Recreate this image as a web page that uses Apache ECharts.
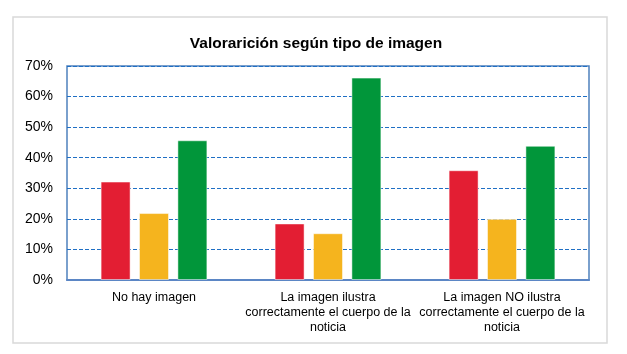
<!DOCTYPE html>
<html>
<head>
<meta charset="utf-8">
<script src="https://cdn.jsdelivr.net/npm/echarts@6/dist/echarts.min.js"></script>
<style>
  html, body { margin: 0; padding: 0; background: #fff; }
  #chart { width: 627px; height: 354px; }
</style>
</head>
<body>
<div id="chart"></div>
<script>
// categorias (eje x)
const categories = [
  'No hay imagen',
  'La imagen ilustra\ncorrectamente el cuerpo de la\nnoticia',
  'La imagen NO ilustra\ncorrectamente el cuerpo de la\nnoticia'
]
// valores en %
const serieRoja = [32.2, 18.5, 35.9]
const serieAmarilla = [21.9, 15.3, 20.0]
const serieVerde = [45.7, 66.2, 43.9]

const COLORS = ['#e31e33', '#f5b41e', '#01963a']

const myChart = echarts.init(document.getElementById('chart'))

const barSeries = (data, color) => ({
  type: 'bar',
  barWidth: 30,
  barGap: '28%',
  itemStyle: {
    color: color,
    borderColor: 'rgba(255,255,255,0.5)',
    borderWidth: 1
  },
  data: data
})

myChart.setOption({
  animation: false,
  textStyle: {
    fontFamily: 'Liberation Sans, Arial, sans-serif'
  },
  graphic: [
    {
      type: 'rect',
      shape: { x: 13, y: 17, width: 594, height: 326 },
      style: { fill: 'none', stroke: '#d9d9d9', lineWidth: 1.5 },
      z: -1
    }
  ],
  title: {
    text: 'Valorarición según tipo de imagen',
    left: 311,
    textAlign: 'center',
    top: 31,
    textStyle: {
      fontSize: 15.5,
      fontWeight: 'bold',
      color: '#000'
    }
  },
  grid: {
    left: 67,
    right: 38,
    top: 66,
    bottom: 74,
    show: true,
    borderColor: '#4f81bd',
    borderWidth: 1.5,
    backgroundColor: 'transparent'
  },
  xAxis: {
    type: 'category',
    data: categories,
    axisTick: { show: false },
    axisLine: {
      show: true,
      lineStyle: { color: '#5b86c5', width: 2 }
    },
    axisLabel: {
      interval: 0,
      margin: 10,
      fontSize: 12.5,
      lineHeight: 15,
      color: '#000'
    }
  },
  yAxis: {
    type: 'value',
    min: 0,
    max: 70,
    interval: 10,
    axisLine: { show: false },
    axisTick: { show: false },
    axisLabel: {
      formatter: '{value}%',
      fontSize: 14,
      margin: 14,
      color: '#000'
    },
    splitLine: {
      lineStyle: {
        color: '#1f6fc4',
        type: [4, 2],
        width: 1
      }
    }
  },
  series: [
    barSeries(serieRoja, COLORS[0]),
    barSeries(serieAmarilla, COLORS[1]),
    barSeries(serieVerde, COLORS[2])
  ]
})
</script>
</body>
</html>
